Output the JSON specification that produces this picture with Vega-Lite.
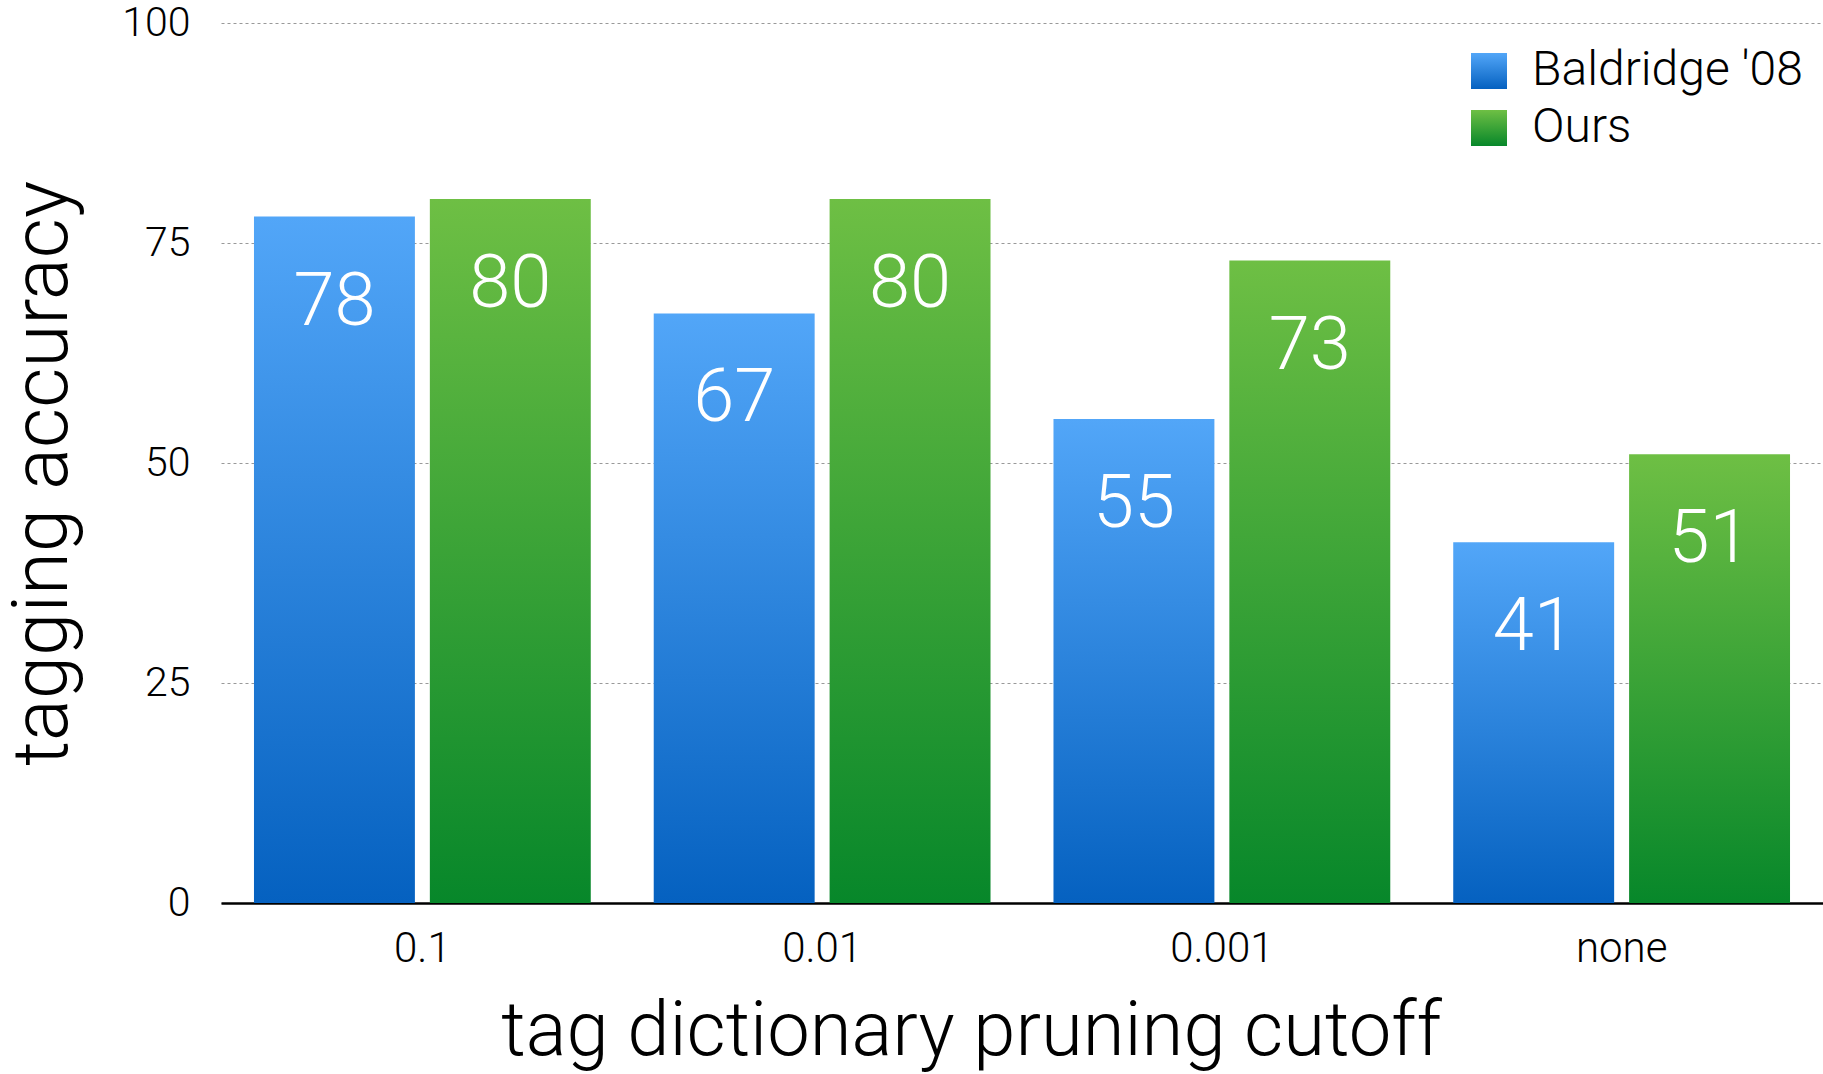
{
  "$schema": "https://vega.github.io/schema/vega-lite/v6.json",
  "autosize": "none",
  "width": 1602,
  "height": 880,
  "padding": {"left": 221, "top": 23, "right": 0, "bottom": 171},
  "background": "white",
  "config": {
    "view": {"stroke": null},
    "font": "Roboto",
    "axis": {"labelFont": "Roboto", "titleFont": "Roboto", "labelFontWeight": 300, "titleFontWeight": 300, "labelColor": "black", "titleColor": "black"},
    "legend": {"labelFont": "Roboto", "labelFontWeight": 300, "labelColor": "black"}
  },
  "data": {
    "values": [
      {"cutoff": "0.1", "series": "Baldridge '08", "accuracy": 78},
      {"cutoff": "0.1", "series": "Ours", "accuracy": 80},
      {"cutoff": "0.01", "series": "Baldridge '08", "accuracy": 67},
      {"cutoff": "0.01", "series": "Ours", "accuracy": 80},
      {"cutoff": "0.001", "series": "Baldridge '08", "accuracy": 55},
      {"cutoff": "0.001", "series": "Ours", "accuracy": 73},
      {"cutoff": "none", "series": "Baldridge '08", "accuracy": 41},
      {"cutoff": "none", "series": "Ours", "accuracy": 51}
    ]
  },
  "encoding": {
    "x": {
      "field": "cutoff", "type": "nominal", "sort": ["0.1", "0.01", "0.001", "none"],
      "scale": {"paddingInner": 0.1575, "paddingOuter": 0.0825},
      "axis": {
        "title": "tag dictionary pruning cutoff", "labelAngle": 0, "labelFontSize": 42, "labelPadding": 25,
        "ticks": false, "domainColor": "black", "domainWidth": 2.5, "grid": false,
        "titleFontSize": 76, "titleX": 750, "titleY": 151, "titleBaseline": "alphabetic", "titleAnchor": "middle"
      }
    },
    "xOffset": {"field": "series", "type": "nominal", "scale": {"paddingInner": 0.085, "paddingOuter": 0}},
    "y": {
      "field": "accuracy", "type": "quantitative",
      "scale": {"domain": [0, 100], "nice": false},
      "axis": {
        "title": "tagging accuracy", "values": [0, 25, 50, 75, 100], "labelFontSize": 41, "labelPadding": 31,
        "ticks": false, "domain": false, "grid": true, "gridColor": "#999999", "gridDash": [3, 3], "gridWidth": 1,
        "titleFontSize": 78, "titleX": -178, "titleY": 450, "titleBaseline": "middle", "titleAngle": -90
      }
    }
  },
  "layer": [
    {
      "mark": {"type": "bar"},
      "encoding": {
        "color": {
          "field": "series", "type": "nominal",
          "scale": {
            "domain": ["Baldridge '08", "Ours"],
            "range": [
              {"expr": "{gradient: 'linear', x1: 0, y1: 0, x2: 0, y2: 1, stops: [{offset: 0, color: '#52a6f8'}, {offset: 1, color: '#0561c0'}]}"},
              {"expr": "{gradient: 'linear', x1: 0, y1: 0, x2: 0, y2: 1, stops: [{offset: 0, color: '#6ebf44'}, {offset: 1, color: '#07872a'}]}"}
            ]
          },
          "legend": {
            "title": null, "orient": "none", "legendX": 1244, "legendY": 24,
            "symbolType": "square", "symbolSize": 1296, "symbolStrokeWidth": 0,
            "labelFontSize": 48, "labelOffset": 19, "rowPadding": 9, "labelLimit": 0,
            "labelBaseline": "middle"
          }
        }
      }
    },
    {
      "mark": {"type": "text", "color": "white", "fontSize": 74, "font": "Roboto", "fontWeight": 300, "baseline": "middle", "dy": 86},
      "encoding": {
        "text": {"field": "accuracy", "type": "quantitative"}
      }
    }
  ]
}
